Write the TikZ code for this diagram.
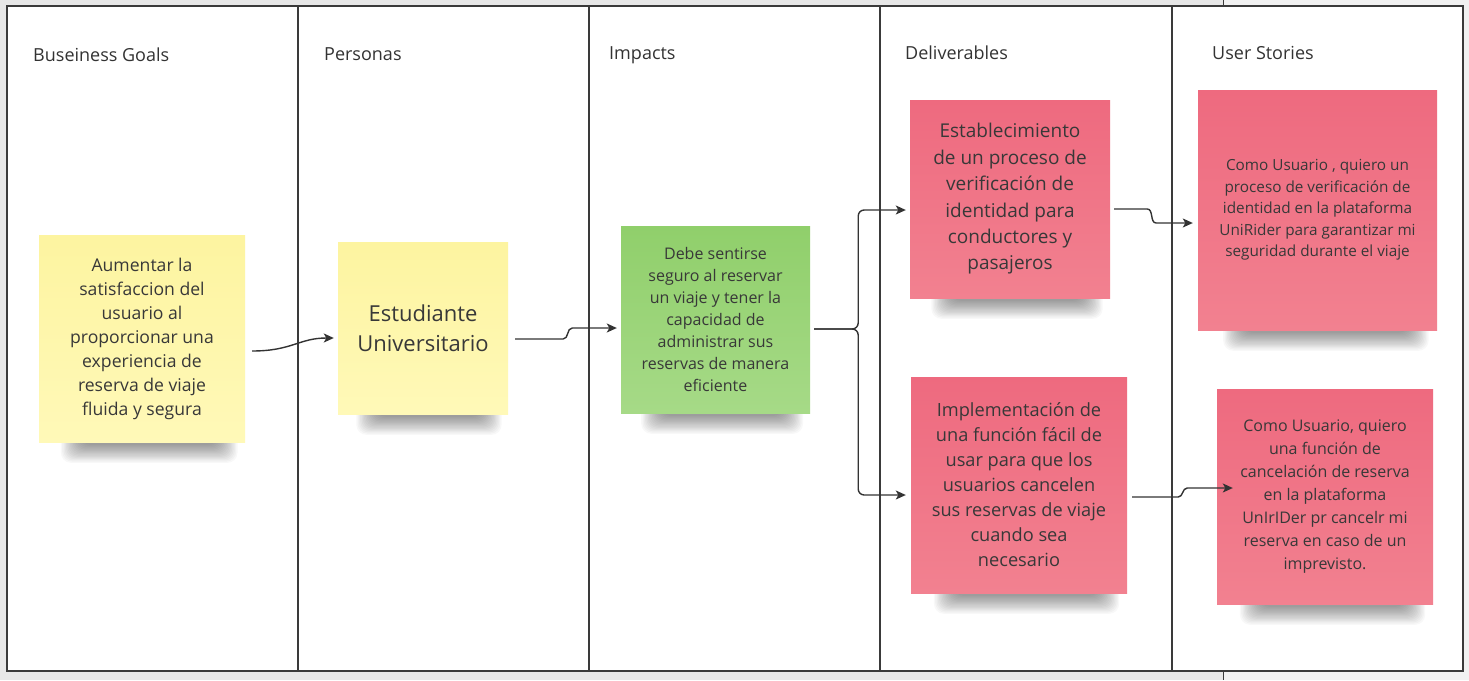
\documentclass[tikz,border=0pt]{standalone}
\usepackage{fontspec}
\setmainfont{Open Sans}
\usetikzlibrary{arrows.meta}
\definecolor{bgA}{HTML}{E7E7E7}
\definecolor{bgB}{HTML}{F1F1F1}
\definecolor{framec}{HTML}{3A3A3A}
\definecolor{hdrtext}{HTML}{333333}
\definecolor{notetext}{HTML}{383838}
\definecolor{yelT}{HTML}{FDF4A0}
\definecolor{yelB}{HTML}{FFF9B8}
\definecolor{grnT}{HTML}{90CF6B}
\definecolor{grnB}{HTML}{A6DA87}
\definecolor{pnkT}{HTML}{EE6A7F}
\definecolor{pnkB}{HTML}{F28190}
\definecolor{connc}{HTML}{333333}
\newcommand{\fsz}[2]{\fontsize{#1}{#2}\selectfont}
% soft shadow under a note: centre x, centre y, width, height
\newcommand{\notesh}[4]{%
  \foreach \i in {1,...,16}{%
    \fill[black,opacity=0.026,rounded corners=10pt]
      ({#1-0.40*#3+1.3*\i},{#2+0.5*#4-30})
      rectangle ({#1+0.47*#3-1.3*\i},{#2+0.5*#4+22-1.2*\i});
  }}
\begin{document}
\begin{tikzpicture}[x=1pt,y=-1pt,
  hdr/.style={anchor=west,inner sep=0pt,text=hdrtext,font=\fsz{18}{20},
    text height=13pt,text depth=0pt},
  note/.style={inner sep=0pt,align=center,text=notetext},
  yellownote/.style={note,top color=yelT,bottom color=yelB},
  greennote/.style={note,top color=grnT,bottom color=grnB},
  pinknote/.style={note,top color=pnkT,bottom color=pnkB},
  conn/.style={draw=connc,line width=1.4pt,
    -{Stealth[length=10pt,width=9pt,inset=2.5pt]}},
]
\useasboundingbox (0,0) rectangle (1469,680);
% canvas
\fill[bgA] (0,0) rectangle (1469,680);
\fill[bgB] (1223,0) rectangle (1469,680);
\draw[framec,line width=0.9pt] (1223,0) -- (1223,680);
% frame and columns
\filldraw[fill=white,draw=framec,line width=2pt] (7,6) rectangle (1463,671);
\foreach \x in {298,589,880,1172}
  \draw[framec,line width=2.4pt] (\x,6) -- (\x,671);
% headers
\node[hdr] (h1) at (33,55) {Buseiness Goals};
\node[hdr] (h2) at (324,54) {Personas};
\node[hdr] (h3) at (609,53) {Impacts};
\node[hdr] (h4) at (905,53) {Deliverables};
\node[hdr] (h5) at (1212,53) {User Stories};
% shadows
\notesh{142}{338.5}{206}{207}
\notesh{423}{328}{170}{172}
\notesh{715.5}{319.5}{189}{187}
\notesh{1010}{199}{200}{198}
\notesh{1019}{485}{216}{216}
\notesh{1317.5}{210}{239}{240}
\notesh{1325}{496.5}{216}{215}
% notes
\node[yellownote,minimum width=206pt,minimum height=207pt,font=\fsz{17.6}{24}]
  (n1) at (142,338.5)
  {Aumentar la\\satisfaccion del\\usuario al\\proporcionar una\\experiencia de\\reserva de viaje\\fluida y segura};
\node[yellownote,minimum width=170pt,minimum height=172pt,font=\fsz{22}{30}]
  (n2) at (423,328)
  {Estudiante\\Universitario};
\node[greennote,minimum width=189pt,minimum height=187pt,font=\fsz{16}{22}]
  (n3) at (715.5,319.5)
  {Debe sentirse\\seguro al reservar\\un viaje y tener la\\capacidad de\\administrar sus\\reservas de manera\\eficiente};
\node[pinknote,minimum width=200pt,minimum height=198pt,font=\fsz{19}{26.4}]
  (n4) at (1010,199)
  {Establecimiento\\de un proceso de\\verificación de\\identidad para\\conductores y\\pasajeros};
\node[pinknote,minimum width=216pt,minimum height=216pt,font=\fsz{18.2}{25}]
  (n5) at (1019,485)
  {Implementación de\\una función fácil de\\usar para que los\\usuarios cancelen\\sus reservas de viaje\\cuando sea\\necesario};
\node[pinknote,minimum width=239pt,minimum height=240pt,font=\fsz{15.3}{21.6}]
  (n6) at (1317.5,210)
  {Como Usuario , quiero un\\proceso de verificación de\\identidad en la plataforma\\UniRider para garantizar mi\\seguridad durante el viaje};
\node[pinknote,minimum width=216pt,minimum height=215pt,font=\fsz{16}{23}]
  (n7) at (1325,496.5)
  {Como Usuario, quiero\\una función de\\cancelación de reserva\\en la plataforma\\UnIrIDer pr cancelr mi\\reserva en caso de un\\imprevisto.};
% connectors
\draw[conn] ([xshift=7pt,yshift=-12.5pt]n1.east)
  .. controls +(40,0) and +(-35,0) .. ([xshift=-4pt,yshift=-10pt]n2.west);
\draw[conn] ([xshift=7pt,yshift=-11pt]n2.east) -- ++(48,0)
  to[out=0,in=180] ++(9,-11) -- ([xshift=-4pt,yshift=-8.5pt]n3.west);
\draw[conn,rounded corners=6pt] ([xshift=4pt,yshift=-9.5pt]n3.east) -- ++(44,0)
  |- ([xshift=-4pt,yshift=-11pt]n4.west);
\draw[conn,rounded corners=6pt] ([xshift=4pt,yshift=-9.5pt]n3.east) -- ++(44,0)
  |- ([xshift=-5pt,yshift=-10pt]n5.west);
\draw[conn] ([xshift=4pt,yshift=-10pt]n4.east) -- ++(33,0)
  to[out=0,in=180] ++(9,14) -- ([xshift=-5pt,yshift=-13pt]n6.west);
\draw[conn] ([xshift=5pt,yshift=-12pt]n5.east) -- ++(46,0)
  to[out=0,in=180] ++(9,-9) -- ([xshift=16pt,yshift=8.5pt]n7.west);
\end{tikzpicture}
\end{document}
